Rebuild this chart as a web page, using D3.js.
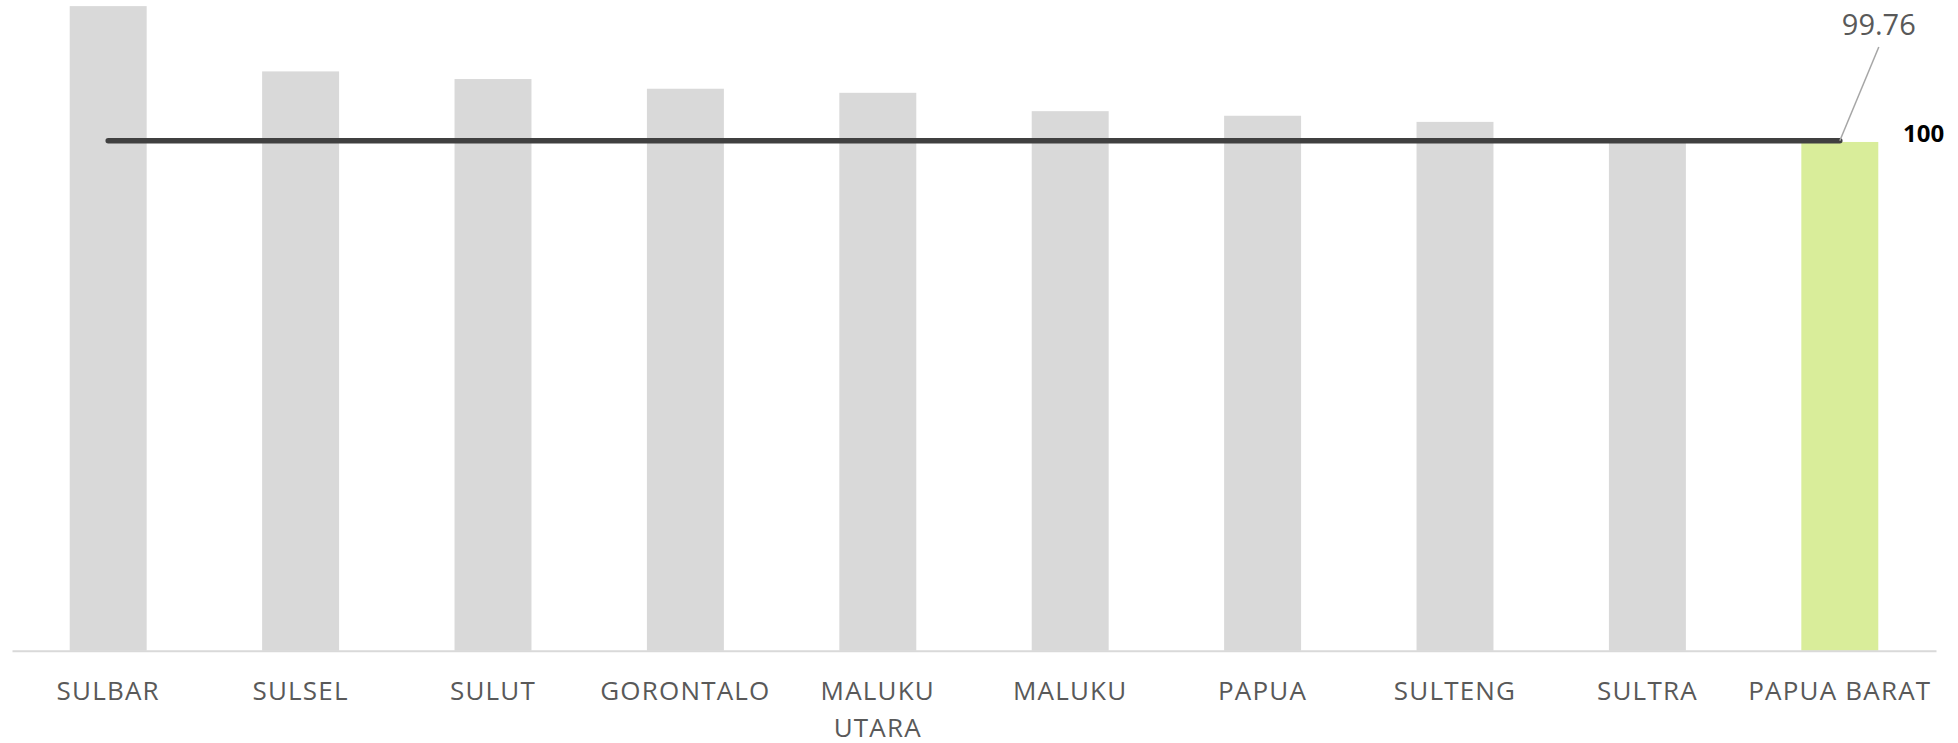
<!DOCTYPE html>
<html>
<head>
<meta charset="utf-8">
<script src="https://cdn.jsdelivr.net/npm/d3@7"></script>
<style>
  body { margin: 0; background: #fff; }
  svg { display: block; font-family: "Open Sans", sans-serif; }
</style>
</head>
<body>
<svg></svg>
<script>
"use strict";

const categories = ["SULBAR", "SULSEL", "SULUT", "GORONTALO", "MALUKU UTARA",
  "MALUKU", "PAPUA", "SULTENG", "SULTRA", "PAPUA BARAT"];
const values = [126.4, 113.6, 112.1, 110.2, 109.4, 105.8, 104.9, 103.7, 100.2, 99.76];
const refValues = [100, 100, 100, 100, 100, 100, 100, 100, 100, 100];
const tickLabels = [["SULBAR"], ["SULSEL"], ["SULUT"], ["GORONTALO"], ["MALUKU", "UTARA"],
  ["MALUKU"], ["PAPUA"], ["SULTENG"], ["SULTRA"], ["PAPUA BARAT"]];
const highlight = "PAPUA BARAT";

const width = 1958;
const height = 743;
const baseY = 650.7;

const svg = d3.select("svg").attr("width", width).attr("height", height);

const xScale = d3.scaleBand()
  .domain(categories)
  .range([12, 1936])
  .paddingInner(0.6)
  .paddingOuter(0.3);

const yScale = d3.scaleLinear()
  .domain([0, 127.6])
  .range([baseY, 0]);

// bars
svg.append("g")
  .selectAll("rect")
  .data(categories)
  .enter()
  .append("rect")
  .attr("x", (d) => xScale(d))
  .attr("width", xScale.bandwidth())
  .attr("y", (d, i) => yScale(values[i]))
  .attr("height", (d, i) => baseY - yScale(values[i]))
  .attr("fill", (d) => (d === highlight ? "#d9ed9a" : "#d9d9d9"));

// x axis
const xAxis = d3.axisBottom(xScale).tickSize(0).tickFormat("");
const axisG = svg.append("g")
  .attr("transform", `translate(0,${baseY})`)
  .call(xAxis);
axisG.select(".domain").attr("stroke", "#d9d9d9").attr("stroke-width", 2);

const labelG = svg.append("g");
categories.forEach((c, i) => {
  const cx = xScale(c) + xScale.bandwidth() / 2;
  const t = labelG.append("text")
    .attr("x", cx)
    .attr("y", baseY + 49)
    .attr("text-anchor", "middle")
    .attr("fill", "#595959")
    .attr("font-size", 26)
    .attr("letter-spacing", 1.2);
  tickLabels[i].forEach((line, j) => {
    t.append("tspan")
      .attr("x", cx)
      .attr("dy", j === 0 ? 0 : 37)
      .text(line);
  });
});

// reference line
const line = d3.line()
  .x((d, i) => xScale(categories[i]) + xScale.bandwidth() / 2)
  .y((d) => yScale(d));

svg.append("path")
  .datum(refValues)
  .attr("d", line)
  .attr("fill", "none")
  .attr("stroke", "#404040")
  .attr("stroke-width", 5.5)
  .attr("stroke-linecap", "round");

// label for the highlighted bar
const last = categories.length - 1;
const lx = xScale(categories[last]) + xScale.bandwidth() / 2;
svg.append("line")
  .attr("x1", lx + 39)
  .attr("y1", 47)
  .attr("x2", lx)
  .attr("y2", yScale(refValues[last]))
  .attr("stroke", "#a6a6a6")
  .attr("stroke-width", 1.5);

svg.append("text")
  .attr("x", lx + 39)
  .attr("y", 35)
  .attr("text-anchor", "middle")
  .attr("fill", "#595959")
  .attr("font-size", 29)
  .text(values[last]);

svg.append("text")
  .attr("x", 1903)
  .attr("y", 142)
  .attr("fill", "#000")
  .attr("font-weight", "bold")
  .attr("font-size", 24)
  .text(refValues[last]);
</script>
</body>
</html>
